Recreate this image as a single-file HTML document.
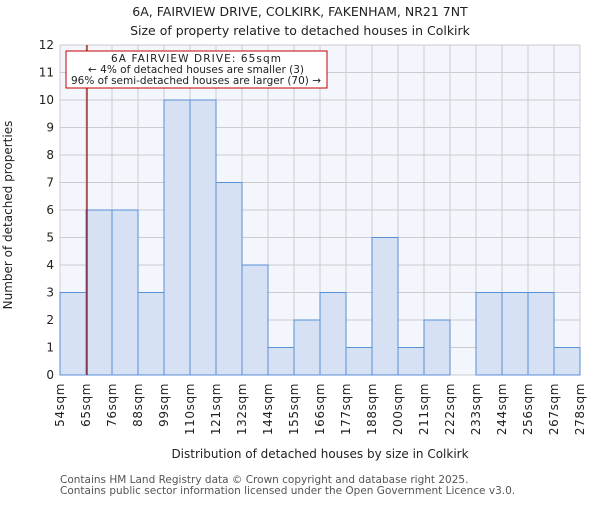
<!DOCTYPE html>
<html><head><meta charset="utf-8"><style>
body{margin:0;background:#fff;}
svg text{font-family:"DejaVu Sans","Liberation Sans",sans-serif;fill:#222;}
</style></head><body>
<svg id="chart" width="600" height="500" xmlns="http://www.w3.org/2000/svg">
<text x="300" y="16" text-anchor="middle" font-size="12.5">6A, FAIRVIEW DRIVE, COLKIRK, FAKENHAM, NR21 7NT</text>
<text x="300" y="35" text-anchor="middle" font-size="12.5">Size of property relative to detached houses in Colkirk</text>
<rect x="60" y="45" width="520" height="330" fill="#f3f6fd"/>
<g id="grid"></g>
<g id="bars"></g>
<g id="ticks"></g>
<line id="marker" y1="45" y2="375" stroke="#a00000" stroke-width="1.2"/>
<g>
<rect x="66" y="51" width="261" height="37" fill="#fff" stroke="#c00000" stroke-width="1"/>
<text x="196" y="62" text-anchor="middle" font-size="10.5" textLength="170">6A FAIRVIEW DRIVE: 65sqm</text>
<text x="196" y="73" text-anchor="middle" font-size="10.5" textLength="216">← 4% of detached houses are smaller (3)</text>
<text x="196" y="84" text-anchor="middle" font-size="10.5" textLength="250">96% of semi-detached houses are larger (70) →</text>
</g>
<text transform="translate(12,215) rotate(-90)" text-anchor="middle" font-size="12">Number of detached properties</text>
<text x="320" y="458" text-anchor="middle" font-size="12">Distribution of detached houses by size in Colkirk</text>
<text x="60" y="483" font-size="10.5" style="fill:#555">Contains HM Land Registry data © Crown copyright and database right 2025.</text>
<text x="60" y="494" font-size="10.5" style="fill:#555">Contains public sector information licensed under the Open Government Licence v3.0.</text>
</svg>
<script>
const categories=["54sqm","65sqm","76sqm","88sqm","99sqm","110sqm","121sqm","132sqm","144sqm","155sqm","166sqm","177sqm","188sqm","200sqm","211sqm","222sqm","233sqm","244sqm","256sqm","267sqm","278sqm"];
const counts=[3,6,6,3,10,10,7,4,1,2,3,1,5,1,2,0,3,3,3,1];
const yTicks=[0,1,2,3,4,5,6,7,8,9,10,11,12];
const propertyBinIndex=1;
const NS="http://www.w3.org/2000/svg";
const X0=60,W=520,Y0=375,H=330,YMAX=12;
const bw=W/counts.length;
const xs=i=>X0+i*bw;
const ys=v=>Y0-v/YMAX*H;
function mk(tag,attrs,parent){const e=document.createElementNS(NS,tag);for(const k in attrs)e.setAttribute(k,attrs[k]);parent.appendChild(e);return e;}
const grid=document.getElementById('grid'),bars=document.getElementById('bars'),ticks=document.getElementById('ticks');
yTicks.forEach(t=>{
 const l=mk('line',{x1:X0,x2:X0+W,y1:ys(t),y2:ys(t),stroke:'#cccccc','stroke-width':1},grid);
 
 
 const tx=mk('text',{x:X0-6,y:ys(t)+4,'text-anchor':'end','font-size':12},ticks);
 tx.textContent=t;
 
 
});
categories.forEach((c,i)=>{
 const l=mk('line',{x1:xs(i),x2:xs(i),y1:Y0-H,y2:Y0,stroke:'#cccccc','stroke-width':1},grid);
 
 
 const x=xs(i)+4;
 const tx=mk('text',{x:x,y:Y0+8,'text-anchor':'end','font-size':12,'letter-spacing':'0.6',transform:`rotate(-90 ${x} ${Y0+8})`},ticks);
 tx.textContent=c;
 
 
});
counts.forEach((v,i)=>{
 if(v<=0)return;
 const r=mk('rect',{x:xs(i),y:ys(v),width:bw,height:Y0-ys(v),fill:'#d6e2f4',stroke:'#5b8fd6','stroke-width':1},bars);
 
 
});
const m=document.getElementById('marker');
m.setAttribute('x1',xs(propertyBinIndex)+1);m.setAttribute('x2',xs(propertyBinIndex)+1);
</script>
</body></html>
